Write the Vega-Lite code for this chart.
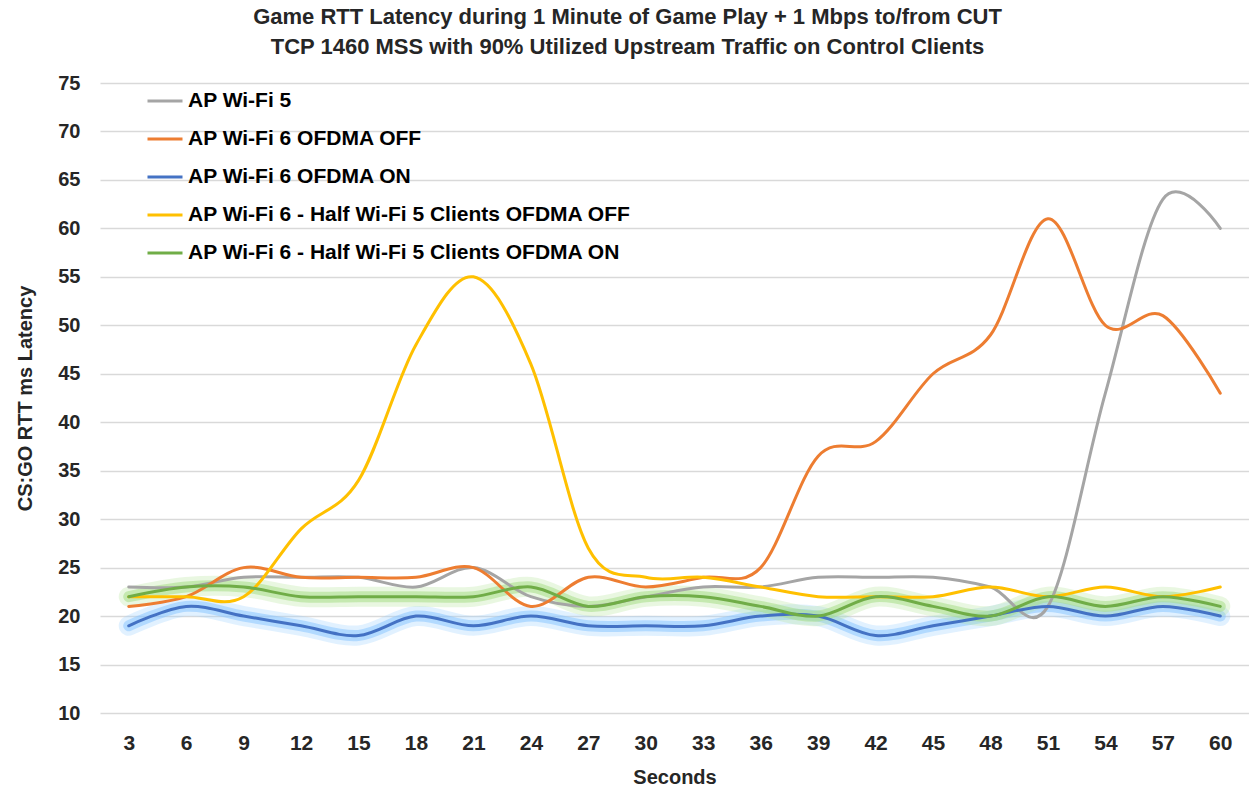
{
  "$schema": "https://vega.github.io/schema/vega-lite/v6.json",
  "width": 1149,
  "height": 630,
  "autosize": {"type": "none"},
  "padding": {"left": 100, "top": 83, "right": 0, "bottom": 78},
  "background": "white",
  "title": {
    "text": ["Game RTT Latency during 1 Minute of Game Play + 1 Mbps to/from CUT", "TCP 1460 MSS with 90% Utilized Upstream Traffic on Control Clients"],
    "font": "Liberation Sans",
    "fontSize": 22,
    "fontWeight": "bold",
    "color": "#262626",
    "lineHeight": 30,
    "anchor": "middle",
    "dx": -47,
    "offset": 14
  },
  "config": {
    "view": {"stroke": null},
    "font": "Liberation Sans",
    "axis": {"labelFont": "Liberation Sans", "titleFont": "Liberation Sans"}
  },
  "data": {
    "values": [
      {"s": "AP Wi-Fi 5", "x": 3, "y": 23}, {"s": "AP Wi-Fi 5", "x": 6, "y": 23}, {"s": "AP Wi-Fi 5", "x": 9, "y": 24}, {"s": "AP Wi-Fi 5", "x": 12, "y": 24}, {"s": "AP Wi-Fi 5", "x": 15, "y": 24}, {"s": "AP Wi-Fi 5", "x": 18, "y": 23}, {"s": "AP Wi-Fi 5", "x": 21, "y": 25}, {"s": "AP Wi-Fi 5", "x": 24, "y": 22}, {"s": "AP Wi-Fi 5", "x": 27, "y": 21}, {"s": "AP Wi-Fi 5", "x": 30, "y": 22}, {"s": "AP Wi-Fi 5", "x": 33, "y": 23}, {"s": "AP Wi-Fi 5", "x": 36, "y": 23}, {"s": "AP Wi-Fi 5", "x": 39, "y": 24}, {"s": "AP Wi-Fi 5", "x": 42, "y": 24}, {"s": "AP Wi-Fi 5", "x": 45, "y": 24}, {"s": "AP Wi-Fi 5", "x": 48, "y": 23}, {"s": "AP Wi-Fi 5", "x": 51, "y": 21}, {"s": "AP Wi-Fi 5", "x": 54, "y": 43}, {"s": "AP Wi-Fi 5", "x": 57, "y": 63}, {"s": "AP Wi-Fi 5", "x": 60, "y": 60},
      {"s": "AP Wi-Fi 6 OFDMA OFF", "x": 3, "y": 21}, {"s": "AP Wi-Fi 6 OFDMA OFF", "x": 6, "y": 22}, {"s": "AP Wi-Fi 6 OFDMA OFF", "x": 9, "y": 25}, {"s": "AP Wi-Fi 6 OFDMA OFF", "x": 12, "y": 24}, {"s": "AP Wi-Fi 6 OFDMA OFF", "x": 15, "y": 24}, {"s": "AP Wi-Fi 6 OFDMA OFF", "x": 18, "y": 24}, {"s": "AP Wi-Fi 6 OFDMA OFF", "x": 21, "y": 25}, {"s": "AP Wi-Fi 6 OFDMA OFF", "x": 24, "y": 21}, {"s": "AP Wi-Fi 6 OFDMA OFF", "x": 27, "y": 24}, {"s": "AP Wi-Fi 6 OFDMA OFF", "x": 30, "y": 23}, {"s": "AP Wi-Fi 6 OFDMA OFF", "x": 33, "y": 24}, {"s": "AP Wi-Fi 6 OFDMA OFF", "x": 36, "y": 25}, {"s": "AP Wi-Fi 6 OFDMA OFF", "x": 39, "y": 36.5}, {"s": "AP Wi-Fi 6 OFDMA OFF", "x": 42, "y": 38}, {"s": "AP Wi-Fi 6 OFDMA OFF", "x": 45, "y": 45}, {"s": "AP Wi-Fi 6 OFDMA OFF", "x": 48, "y": 49}, {"s": "AP Wi-Fi 6 OFDMA OFF", "x": 51, "y": 61}, {"s": "AP Wi-Fi 6 OFDMA OFF", "x": 54, "y": 50}, {"s": "AP Wi-Fi 6 OFDMA OFF", "x": 57, "y": 51}, {"s": "AP Wi-Fi 6 OFDMA OFF", "x": 60, "y": 43},
      {"s": "AP Wi-Fi 6 OFDMA ON", "x": 3, "y": 19}, {"s": "AP Wi-Fi 6 OFDMA ON", "x": 6, "y": 21}, {"s": "AP Wi-Fi 6 OFDMA ON", "x": 9, "y": 20}, {"s": "AP Wi-Fi 6 OFDMA ON", "x": 12, "y": 19}, {"s": "AP Wi-Fi 6 OFDMA ON", "x": 15, "y": 18}, {"s": "AP Wi-Fi 6 OFDMA ON", "x": 18, "y": 20}, {"s": "AP Wi-Fi 6 OFDMA ON", "x": 21, "y": 19}, {"s": "AP Wi-Fi 6 OFDMA ON", "x": 24, "y": 20}, {"s": "AP Wi-Fi 6 OFDMA ON", "x": 27, "y": 19}, {"s": "AP Wi-Fi 6 OFDMA ON", "x": 30, "y": 19}, {"s": "AP Wi-Fi 6 OFDMA ON", "x": 33, "y": 19}, {"s": "AP Wi-Fi 6 OFDMA ON", "x": 36, "y": 20}, {"s": "AP Wi-Fi 6 OFDMA ON", "x": 39, "y": 20}, {"s": "AP Wi-Fi 6 OFDMA ON", "x": 42, "y": 18}, {"s": "AP Wi-Fi 6 OFDMA ON", "x": 45, "y": 19}, {"s": "AP Wi-Fi 6 OFDMA ON", "x": 48, "y": 20}, {"s": "AP Wi-Fi 6 OFDMA ON", "x": 51, "y": 21}, {"s": "AP Wi-Fi 6 OFDMA ON", "x": 54, "y": 20}, {"s": "AP Wi-Fi 6 OFDMA ON", "x": 57, "y": 21}, {"s": "AP Wi-Fi 6 OFDMA ON", "x": 60, "y": 20},
      {"s": "AP Wi-Fi 6 - Half Wi-Fi 5 Clients OFDMA OFF", "x": 3, "y": 22}, {"s": "AP Wi-Fi 6 - Half Wi-Fi 5 Clients OFDMA OFF", "x": 6, "y": 22}, {"s": "AP Wi-Fi 6 - Half Wi-Fi 5 Clients OFDMA OFF", "x": 9, "y": 22}, {"s": "AP Wi-Fi 6 - Half Wi-Fi 5 Clients OFDMA OFF", "x": 12, "y": 29}, {"s": "AP Wi-Fi 6 - Half Wi-Fi 5 Clients OFDMA OFF", "x": 15, "y": 34}, {"s": "AP Wi-Fi 6 - Half Wi-Fi 5 Clients OFDMA OFF", "x": 18, "y": 48}, {"s": "AP Wi-Fi 6 - Half Wi-Fi 5 Clients OFDMA OFF", "x": 21, "y": 55}, {"s": "AP Wi-Fi 6 - Half Wi-Fi 5 Clients OFDMA OFF", "x": 24, "y": 46}, {"s": "AP Wi-Fi 6 - Half Wi-Fi 5 Clients OFDMA OFF", "x": 27, "y": 27}, {"s": "AP Wi-Fi 6 - Half Wi-Fi 5 Clients OFDMA OFF", "x": 30, "y": 24}, {"s": "AP Wi-Fi 6 - Half Wi-Fi 5 Clients OFDMA OFF", "x": 33, "y": 24}, {"s": "AP Wi-Fi 6 - Half Wi-Fi 5 Clients OFDMA OFF", "x": 36, "y": 23}, {"s": "AP Wi-Fi 6 - Half Wi-Fi 5 Clients OFDMA OFF", "x": 39, "y": 22}, {"s": "AP Wi-Fi 6 - Half Wi-Fi 5 Clients OFDMA OFF", "x": 42, "y": 22}, {"s": "AP Wi-Fi 6 - Half Wi-Fi 5 Clients OFDMA OFF", "x": 45, "y": 22}, {"s": "AP Wi-Fi 6 - Half Wi-Fi 5 Clients OFDMA OFF", "x": 48, "y": 23}, {"s": "AP Wi-Fi 6 - Half Wi-Fi 5 Clients OFDMA OFF", "x": 51, "y": 22}, {"s": "AP Wi-Fi 6 - Half Wi-Fi 5 Clients OFDMA OFF", "x": 54, "y": 23}, {"s": "AP Wi-Fi 6 - Half Wi-Fi 5 Clients OFDMA OFF", "x": 57, "y": 22}, {"s": "AP Wi-Fi 6 - Half Wi-Fi 5 Clients OFDMA OFF", "x": 60, "y": 23},
      {"s": "AP Wi-Fi 6 - Half Wi-Fi 5 Clients OFDMA ON", "x": 3, "y": 22}, {"s": "AP Wi-Fi 6 - Half Wi-Fi 5 Clients OFDMA ON", "x": 6, "y": 23}, {"s": "AP Wi-Fi 6 - Half Wi-Fi 5 Clients OFDMA ON", "x": 9, "y": 23}, {"s": "AP Wi-Fi 6 - Half Wi-Fi 5 Clients OFDMA ON", "x": 12, "y": 22}, {"s": "AP Wi-Fi 6 - Half Wi-Fi 5 Clients OFDMA ON", "x": 15, "y": 22}, {"s": "AP Wi-Fi 6 - Half Wi-Fi 5 Clients OFDMA ON", "x": 18, "y": 22}, {"s": "AP Wi-Fi 6 - Half Wi-Fi 5 Clients OFDMA ON", "x": 21, "y": 22}, {"s": "AP Wi-Fi 6 - Half Wi-Fi 5 Clients OFDMA ON", "x": 24, "y": 23}, {"s": "AP Wi-Fi 6 - Half Wi-Fi 5 Clients OFDMA ON", "x": 27, "y": 21}, {"s": "AP Wi-Fi 6 - Half Wi-Fi 5 Clients OFDMA ON", "x": 30, "y": 22}, {"s": "AP Wi-Fi 6 - Half Wi-Fi 5 Clients OFDMA ON", "x": 33, "y": 22}, {"s": "AP Wi-Fi 6 - Half Wi-Fi 5 Clients OFDMA ON", "x": 36, "y": 21}, {"s": "AP Wi-Fi 6 - Half Wi-Fi 5 Clients OFDMA ON", "x": 39, "y": 20}, {"s": "AP Wi-Fi 6 - Half Wi-Fi 5 Clients OFDMA ON", "x": 42, "y": 22}, {"s": "AP Wi-Fi 6 - Half Wi-Fi 5 Clients OFDMA ON", "x": 45, "y": 21}, {"s": "AP Wi-Fi 6 - Half Wi-Fi 5 Clients OFDMA ON", "x": 48, "y": 20}, {"s": "AP Wi-Fi 6 - Half Wi-Fi 5 Clients OFDMA ON", "x": 51, "y": 22}, {"s": "AP Wi-Fi 6 - Half Wi-Fi 5 Clients OFDMA ON", "x": 54, "y": 21}, {"s": "AP Wi-Fi 6 - Half Wi-Fi 5 Clients OFDMA ON", "x": 57, "y": 22}, {"s": "AP Wi-Fi 6 - Half Wi-Fi 5 Clients OFDMA ON", "x": 60, "y": 21}
    ]
  },
  "encoding": {
    "x": {
      "field": "x", "type": "ordinal",
      "scale": {"type": "point", "padding": 0.5},
      "axis": {"title": "Seconds", "labelAngle": 0, "ticks": false, "domain": false, "grid": false,
        "labelFontSize": 21, "labelFontWeight": "bold", "labelColor": "#262626", "labelPadding": 19,
        "titleFontSize": 20, "titleFontWeight": "bold", "titleColor": "#262626", "titlePadding": 14}
    },
    "y": {
      "field": "y", "type": "quantitative",
      "scale": {"domain": [10, 75], "nice": false, "zero": false},
      "axis": {"title": "CS:GO RTT ms Latency", "values": [10, 15, 20, 25, 30, 35, 40, 45, 50, 55, 60, 65, 70, 75],
        "ticks": false, "domain": false, "grid": true, "gridColor": "#d9d9d9", "gridWidth": 1.3,
        "labelFontSize": 20, "labelFontWeight": "bold", "labelColor": "#262626", "labelPadding": 20,
        "titleFontSize": 20, "titleFontWeight": "bold", "titleColor": "#262626", "titlePadding": 22}
    }
  },
  "layer": [
    {
      "transform": [{"filter": "datum.s === 'AP Wi-Fi 6 OFDMA ON'"}],
      "mark": {"type": "line", "interpolate": "cardinal", "color": "#9ccfff", "strokeWidth": 20, "opacity": 0.3, "strokeCap": "round"}
    },
    {
      "transform": [{"filter": "datum.s === 'AP Wi-Fi 6 OFDMA ON'"}],
      "mark": {"type": "line", "interpolate": "cardinal", "color": "#8cc6ff", "strokeWidth": 11, "opacity": 0.55, "strokeCap": "round"}
    },
    {
      "transform": [{"filter": "datum.s === 'AP Wi-Fi 6 - Half Wi-Fi 5 Clients OFDMA ON'"}],
      "mark": {"type": "line", "interpolate": "cardinal", "color": "#b5e49a", "strokeWidth": 20, "opacity": 0.3, "strokeCap": "round"}
    },
    {
      "transform": [{"filter": "datum.s === 'AP Wi-Fi 6 - Half Wi-Fi 5 Clients OFDMA ON'"}],
      "mark": {"type": "line", "interpolate": "cardinal", "color": "#a8de88", "strokeWidth": 11, "opacity": 0.55, "strokeCap": "round"}
    },
    {
      "mark": {"type": "line", "interpolate": "cardinal", "strokeWidth": 3, "strokeCap": "round"},
      "encoding": {
        "color": {
          "field": "s", "type": "nominal",
          "scale": {
            "domain": ["AP Wi-Fi 5", "AP Wi-Fi 6 OFDMA OFF", "AP Wi-Fi 6 OFDMA ON", "AP Wi-Fi 6 - Half Wi-Fi 5 Clients OFDMA OFF", "AP Wi-Fi 6 - Half Wi-Fi 5 Clients OFDMA ON"],
            "range": ["#A5A5A5", "#ED7D31", "#4472C4", "#FFC000", "#70AD47"]
          },
          "legend": {
            "title": null, "orient": "none", "legendX": 46, "legendY": -1, "padding": 0,
            "symbolType": "stroke", "symbolSize": 1225, "symbolStrokeWidth": 3,
            "labelFontSize": 21, "labelFontWeight": "bold", "labelColor": "#000000", "labelLimit": 0,
            "labelOffset": 4, "rowPadding": 9
          }
        }
      }
    }
  ]
}
